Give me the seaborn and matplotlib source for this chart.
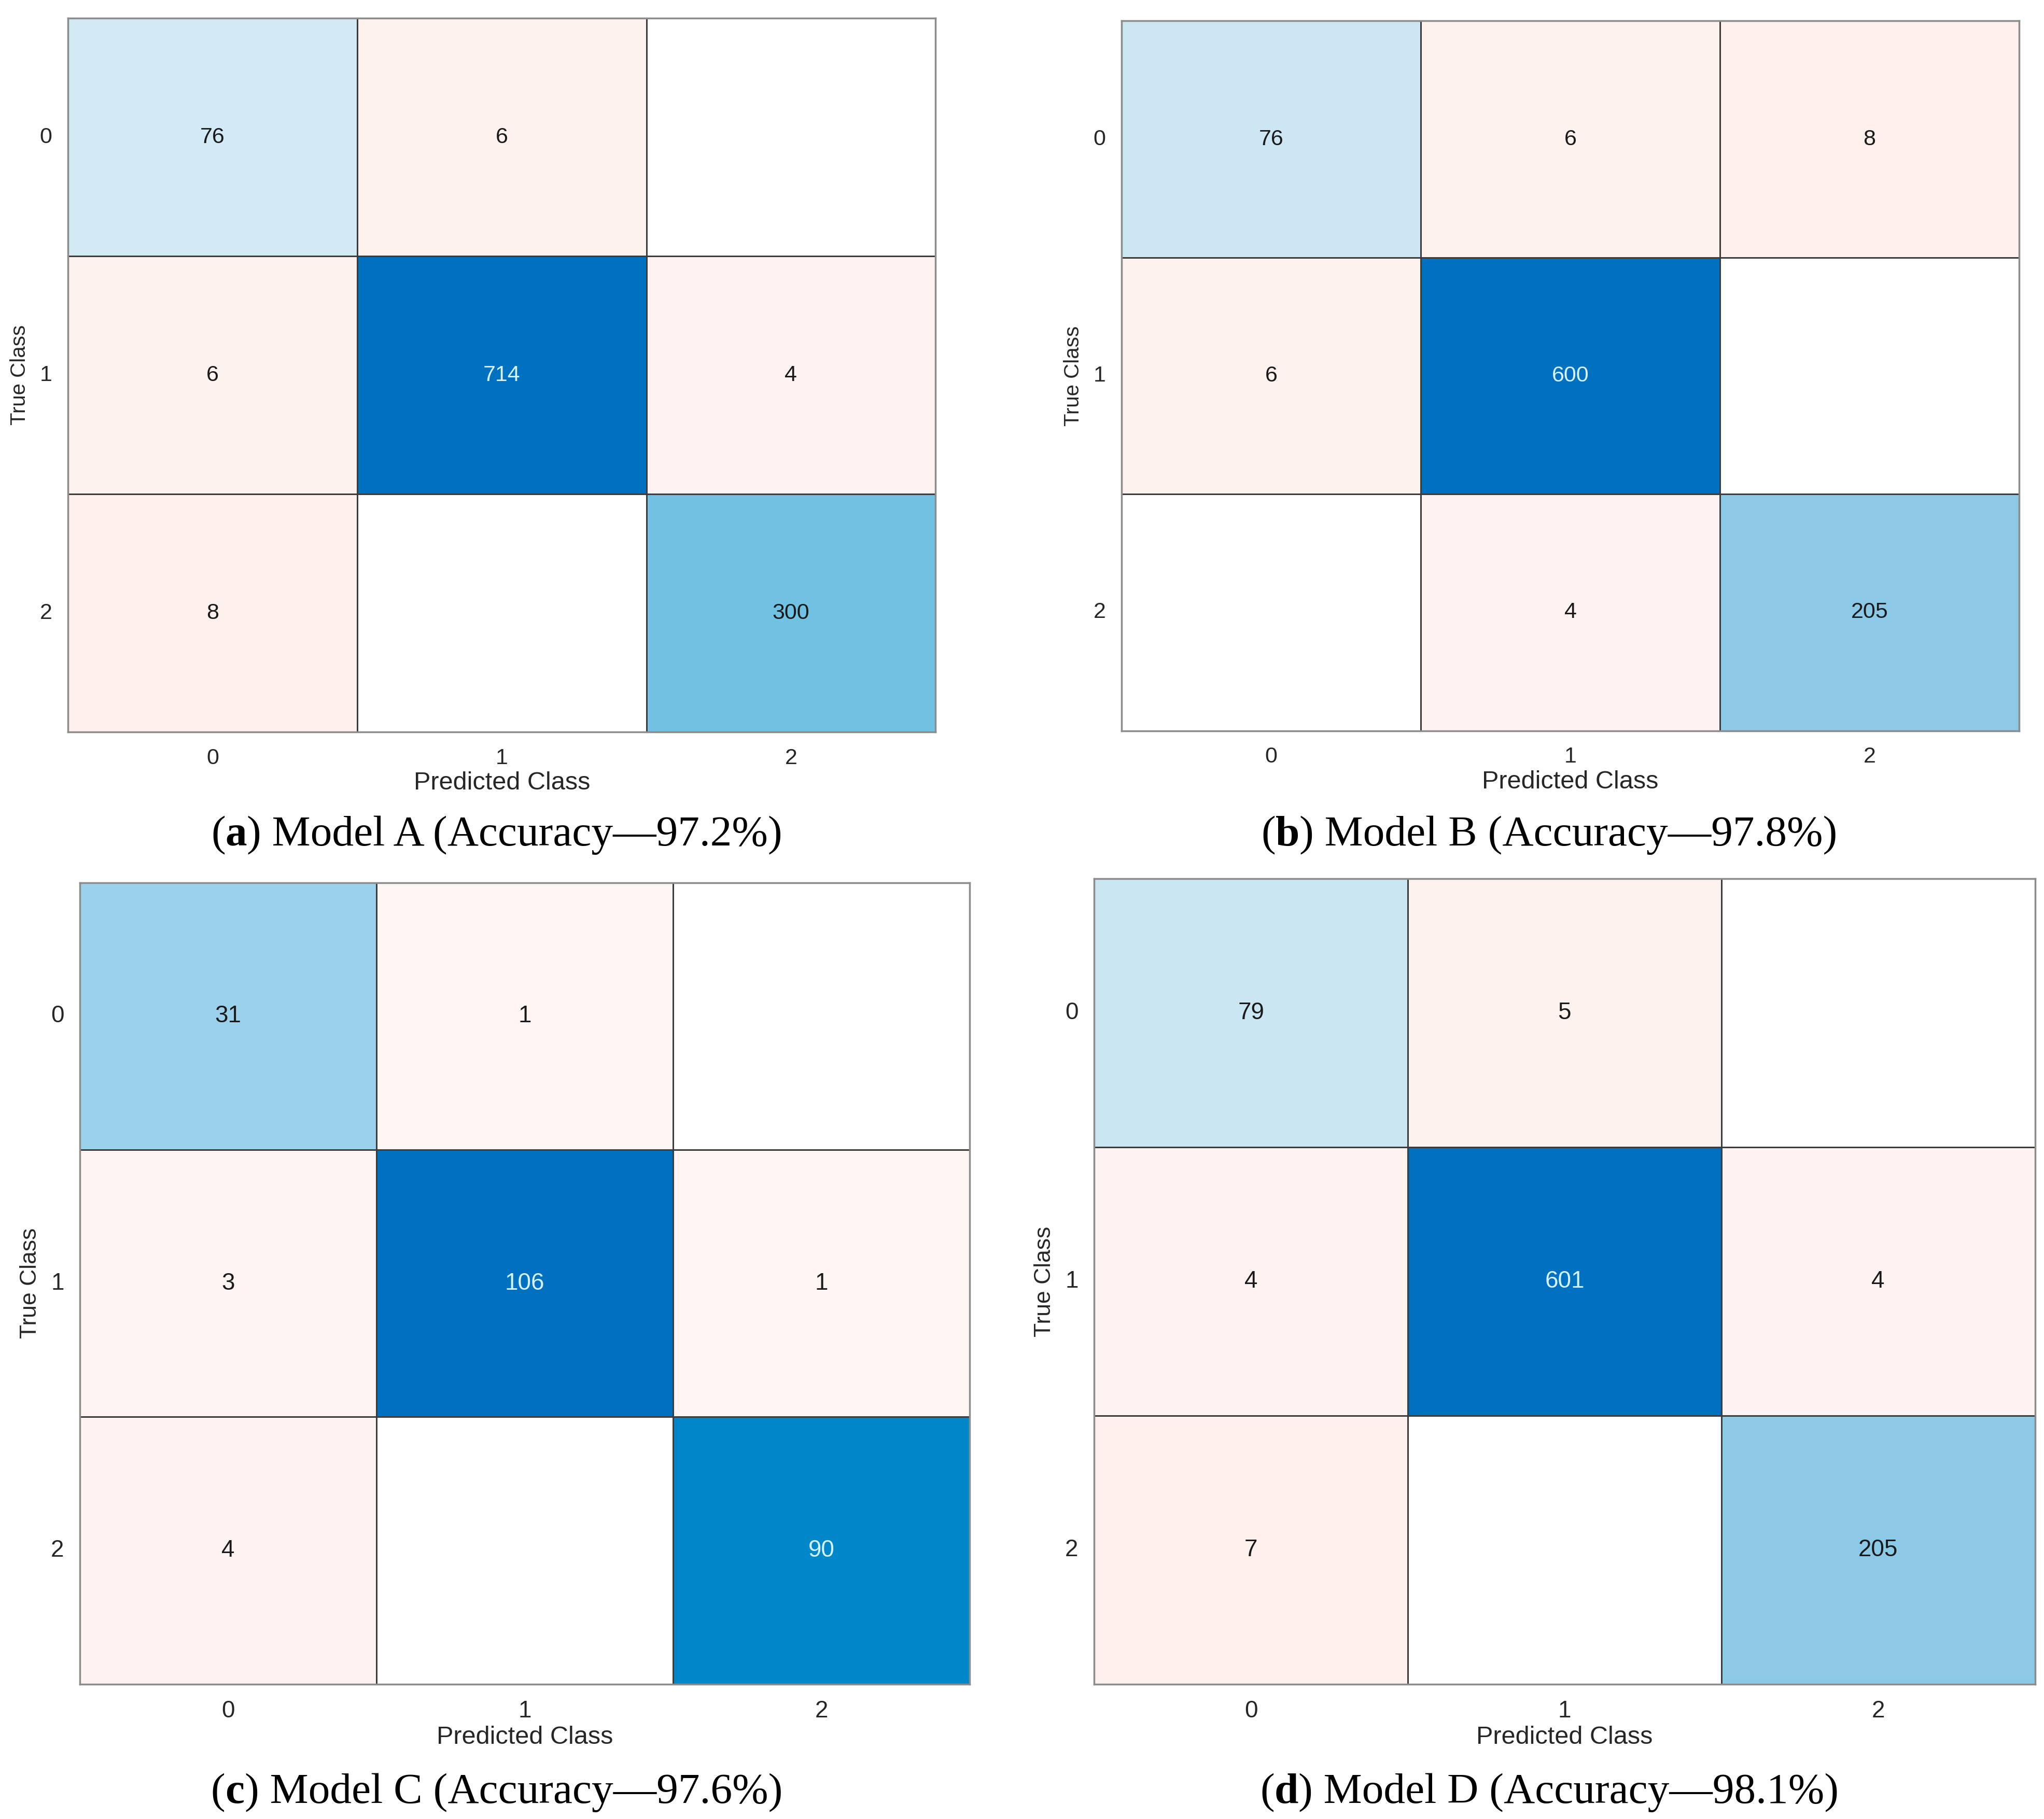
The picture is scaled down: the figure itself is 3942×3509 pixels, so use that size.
import numpy as np
import pandas as pd
import matplotlib
matplotlib.use("Agg")
import matplotlib.pyplot as plt
import seaborn as sns
from matplotlib.colors import LinearSegmentedColormap, ListedColormap

# ---------------- data ----------------
classes = ["0", "1", "2"]
cm_a = [[76, 6, 0], [6, 714, 4], [8, 0, 300]]
cm_b = [[76, 6, 8], [6, 600, 0], [0, 4, 205]]
cm_c = [[31, 1, 0], [3, 106, 1], [4, 0, 90]]
cm_d = [[79, 5, 0], [4, 601, 4], [7, 0, 205]]
panel_letters = ["a", "b", "c", "d"]
model_names = ["Model A", "Model B", "Model C", "Model D"]
accuracies = ["97.2%", "97.8%", "97.6%", "98.1%"]
matrices = [cm_a, cm_b, cm_c, cm_d]

# ---------------- style ----------------
sns.set_style("white")
plt.rcParams["font.family"] = ["Liberation Sans", "DejaVu Sans"]

W, H = 3942, 3509
fig = plt.figure(figsize=(W / 100, H / 100), dpi=100)

axes_rects = [
    [0.0333, 0.5976, 0.4244, 0.3923],
    [0.5487, 0.5983, 0.4391, 0.3902],
    [0.0391, 0.0742, 0.4353, 0.4406],
    [0.5353, 0.0742, 0.4603, 0.4427],
]
caption_pos = [(0.243, 0.5352), (0.758, 0.5352), (0.243, 0.0088), (0.758, 0.0088)]
ylabel_size = [29, 29, 32, 32]
num_size = [31, 31, 33, 33]

blue_cmap = LinearSegmentedColormap.from_list(
    "cc_blue",
    [(0.0, "#FFFFFF"), (0.106, "#D2EAF6"), (0.127, "#CCE6F3"), (0.29, "#9BD1EB"),
     (0.34, "#8BC9E6"), (0.42, "#71C1E3"), (0.85, "#0087C9"), (1.0, "#0070C0")])
pink_cmap = LinearSegmentedColormap.from_list("cc_pink", ["#FFF6F3", "#FDEFEB"])
white_cmap = ListedColormap(["#FFFFFF"])

grid_color = "#3c3c3c"
tick_color = "#262626"

for i, cm in enumerate(matrices):
    ax = fig.add_axes(axes_rects[i])
    df = pd.DataFrame(cm, index=classes, columns=classes)
    arr = df.values
    eye = np.eye(len(classes), dtype=bool)
    labels = np.where(arr > 0, arr.astype(str), "")
    diag_max = arr[eye].max()

    sns.heatmap(df, ax=ax, cmap=white_cmap, cbar=False,
                linewidths=2, linecolor=grid_color)
    sns.heatmap(df, ax=ax, mask=eye | (arr == 0), cmap=pink_cmap, vmin=0, vmax=10,
                annot=labels, fmt="", cbar=False, linewidths=2, linecolor=grid_color,
                annot_kws=dict(fontsize=num_size[i], color="#1a1a1a"))
    n_before = len(ax.texts)
    sns.heatmap(df, ax=ax, mask=~eye, cmap=blue_cmap, vmin=0, vmax=diag_max,
                annot=labels, fmt="", cbar=False, linewidths=2, linecolor=grid_color,
                annot_kws=dict(fontsize=num_size[i], color="#1a1a1a"))
    for t in ax.texts[n_before:]:
        v = float(t.get_text())
        if v / diag_max > 0.6:
            t.set_color("#D6F1FF")

    ax.set_xticks(np.arange(len(classes)) + 0.5)
    ax.set_yticks(np.arange(len(classes)) + 0.5)
    ax.set_xticklabels(classes, rotation=0)
    ax.set_yticklabels(classes, rotation=0)
    ax.tick_params(axis="both", length=0, labelsize=num_size[i], colors=tick_color)
    ax.tick_params(axis="x", pad=22)
    ax.tick_params(axis="y", pad=22)
    ax.set_xlabel("Predicted Class", fontsize=35, color=tick_color, labelpad=4)
    ax.set_ylabel("True Class", fontsize=ylabel_size[i], color=tick_color, labelpad=14)
    for sp in ax.spines.values():
        sp.set_visible(True)
        sp.set_color("#8c8c8c")
        sp.set_linewidth(2.5)

# ---------------- captions ----------------
renderer = fig.canvas.get_renderer()
for i in range(4):
    xc, yb = caption_pos[i]
    parts = [("(", "normal"), (panel_letters[i], "bold"),
             (") " + model_names[i] + " (Accuracy\u2014" + accuracies[i] + ")", "normal")]
    texts = [fig.text(0, yb, s, fontweight=w, family=["Liberation Serif", "DejaVu Serif"],
                      fontsize=60, color="black", va="baseline", ha="left")
             for s, w in parts]
    widths = [t.get_window_extent(renderer).width for t in texts]
    x0 = xc * W - sum(widths) / 2
    for t, w in zip(texts, widths):
        t.set_x(x0 / W)
        x0 += w

fig.savefig("out.png", dpi=100, facecolor="white")
